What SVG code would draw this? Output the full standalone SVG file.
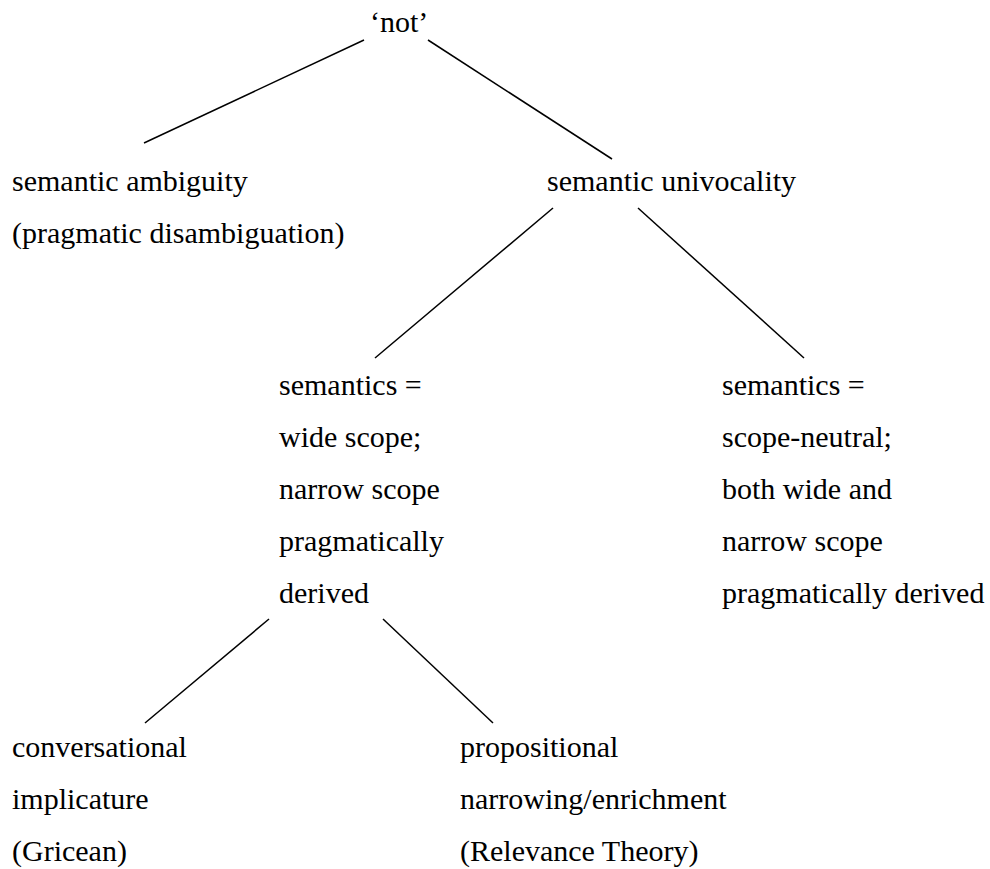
<svg xmlns="http://www.w3.org/2000/svg" width="990" height="869" viewBox="0 0 990 869">
<style>
text{font-family:"Liberation Serif","Times New Roman",serif;font-size:30px;fill:#000}
.c line{stroke:#000;stroke-width:1.5}
</style>
<rect width="990" height="869" fill="#fff"/>
<g class="c" id="connectors">
<line x1="364" y1="40" x2="144" y2="143"/>
<line x1="428" y1="40" x2="612" y2="159"/>
<line x1="553" y1="208" x2="375" y2="358"/>
<line x1="638" y1="208" x2="804" y2="358"/>
<line x1="269" y1="619" x2="145" y2="723"/>
<line x1="383" y1="619" x2="493" y2="723"/>
</g>
<g id="not"><text x="370" y="32">‘not’</text></g>
<g id="ambiguity"><text x="12" y="191">semantic ambiguity</text><text x="12" y="243">(pragmatic disambiguation)</text></g>
<g id="univocality"><text x="547" y="191">semantic univocality</text></g>
<g id="wide"><text x="279" y="395">semantics =</text><text x="279" y="447">wide scope;</text><text x="279" y="499">narrow scope</text><text x="279" y="551">pragmatically</text><text x="279" y="603">derived</text></g>
<g id="neutral"><text x="722" y="395">semantics =</text><text x="722" y="447">scope-neutral;</text><text x="722" y="499">both wide and</text><text x="722" y="551">narrow scope</text><text x="722" y="603">pragmatically derived</text></g>
<g id="gricean"><text x="12" y="757">conversational</text><text x="12" y="809">implicature</text><text x="12" y="861">(Gricean)</text></g>
<g id="relevance"><text x="460" y="757">propositional</text><text x="460" y="809">narrowing/enrichment</text><text x="460" y="861">(Relevance Theory)</text></g>
</svg>
